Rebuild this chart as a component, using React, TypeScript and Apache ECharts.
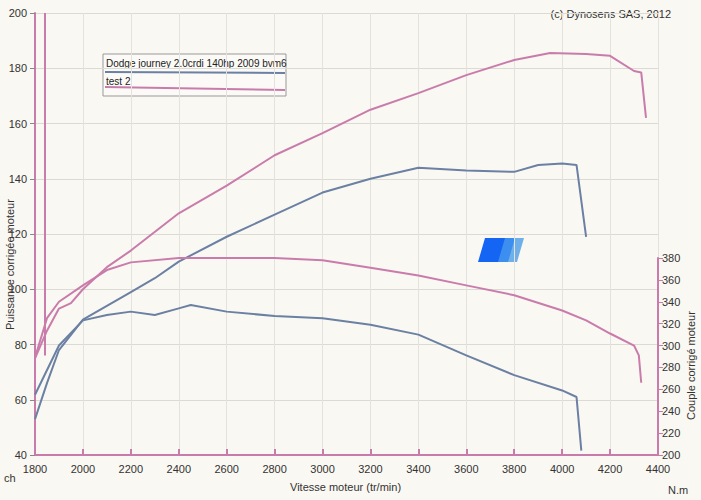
import { useRef, useEffect } from "react";
import * as echarts from "echarts";

const dodgePower: [number, number][] = [
  [1800, 53], [1850, 66], [1900, 78], [2000, 89], [2100, 94], [2200, 99], [2300, 104], [2400, 110],
  [2600, 119], [2800, 127], [3000, 135], [3200, 140], [3400, 144], [3600, 143], [3800, 142.5],
  [3900, 145], [4000, 145.5], [4060, 145], [4100, 119],
];
const dodgeTorque: [number, number][] = [
  [1800, 255], [1900, 300], [2000, 323], [2100, 328], [2200, 331], [2300, 328], [2400, 334],
  [2450, 337], [2600, 331], [2800, 327], [3000, 325], [3200, 319], [3400, 310], [3600, 291],
  [3800, 273], [4000, 259], [4060, 253], [4080, 204],
];
const testPower: [number, number][] = [
  [1800, 75], [1850, 85], [1900, 93], [1950, 95], [2000, 100], [2100, 108], [2200, 114], [2400, 127.5],
  [2600, 137.5], [2800, 148.5], [3000, 156.5], [3200, 165], [3400, 171], [3600, 177.5], [3800, 183],
  [3950, 185.5], [4100, 185.2], [4200, 184.5], [4300, 179], [4330, 178.5], [4350, 162],
];
const testTorque: [number, number][] = [
  [1800, 289], [1850, 325], [1900, 340], [2000, 355], [2100, 369], [2200, 376], [2400, 380],
  [2600, 380], [2800, 380], [3000, 378], [3200, 371], [3400, 364], [3600, 355], [3800, 346],
  [4000, 332], [4100, 323], [4200, 311], [4300, 300], [4320, 291], [4330, 266],
];

const BLUE = "#6b80a3";
const PINK = "#c97cab";
const FONT = "Liberation Sans";

export default function App() {
  const ref = useRef<HTMLDivElement>(null);

  useEffect(() => {
    if (!ref.current) return;
    const chart = echarts.init(ref.current, undefined, { renderer: "svg" });
    const axisText = { color: "#333", fontSize: 11, fontFamily: FONT };
    const xBase = {
      type: "value" as const,
      min: 1800,
      max: 4400,
      interval: 200,
    };
    const txt = (text: string, size = 11) => ({ text, fontSize: size, fill: "#333", fontFamily: FONT });
    chart.setOption({
      animation: false,
      backgroundColor: "#faf8f2",
      textStyle: { fontFamily: FONT },
      grid: [
        { left: 35, right: 43, top: 13, bottom: 45 },
        { left: 35, right: 43, top: 258, bottom: 45 },
      ],
      xAxis: [
        {
          ...xBase,
          gridIndex: 0,
          axisLine: { lineStyle: { color: PINK, width: 2 } },
          axisTick: { lineStyle: { color: PINK, width: 2 }, inside: true, length: 6 },
          axisLabel: { ...axisText, formatter: (v: number) => String(v) },
          splitLine: { lineStyle: { color: "#e4e2dc" } },
        },
        { ...xBase, gridIndex: 1, show: false },
      ],
      yAxis: [
        {
          type: "value",
          gridIndex: 0,
          min: 40,
          max: 200,
          interval: 20,
          axisLine: { show: true, lineStyle: { color: PINK, width: 2 } },
          axisTick: { show: true, lineStyle: { color: "#888" } },
          axisLabel: axisText,
          splitLine: { lineStyle: { color: "#dcdad4" } },
        },
        {
          type: "value",
          gridIndex: 1,
          position: "right",
          min: 200,
          max: 380,
          interval: 20,
          axisLine: { show: true, lineStyle: { color: PINK, width: 2 } },
          axisTick: { show: true, lineStyle: { color: PINK } },
          axisLabel: { ...axisText, margin: 4 },
          splitLine: { show: false },
        },
      ],
      series: [
        {
          type: "line", xAxisIndex: 0, yAxisIndex: 0, data: dodgePower, symbol: "none",
          lineStyle: { color: BLUE, width: 2 },
        },
        {
          type: "line", xAxisIndex: 0, yAxisIndex: 0, data: testPower, symbol: "none",
          lineStyle: { color: PINK, width: 2 },
          markLine: {
            symbol: "none", silent: true, label: { show: false },
            lineStyle: { color: PINK, width: 2, type: "solid" },
            data: [[{ coord: [1842, 76] }, { coord: [1842, 200] }]],
          },
        },
        {
          type: "line", xAxisIndex: 1, yAxisIndex: 1, data: dodgeTorque, symbol: "none",
          lineStyle: { color: BLUE, width: 2 },
        },
        {
          type: "line", xAxisIndex: 1, yAxisIndex: 1, data: testTorque, symbol: "none",
          lineStyle: { color: PINK, width: 2 },
        },
      ],
      graphic: [
        { type: "text", right: 30, top: 8, style: txt("(c) Dynosens SAS, 2012") },
        { type: "text", left: 4, top: 472, style: txt("ch") },
        { type: "text", left: 290, top: 481, style: txt("Vitesse moteur (tr/min)") },
        { type: "text", left: 668, top: 484, style: txt("N.m") },
        { type: "text", x: 4, y: 330, rotation: Math.PI / 2, style: txt("Puissance corrigée moteur") },
        { type: "text", x: 685, y: 420, rotation: Math.PI / 2, style: txt("Couple corrigé moteur") },
        { type: "rect", shape: { x: 103, y: 54, width: 183, height: 42 }, style: { fill: "#fbfaf6", stroke: "#999", lineWidth: 1 } },
        { type: "text", left: 106, top: 58, style: { ...txt("Dodge journey 2.0crdi 140hp 2009 bvm6", 10), fill: "#222" } },
        { type: "line", shape: { x1: 105, y1: 72, x2: 285, y2: 73 }, style: { stroke: BLUE, lineWidth: 2 } },
        { type: "text", left: 106, top: 76, style: { ...txt("test 2", 10), fill: "#222" } },
        { type: "line", shape: { x1: 105, y1: 87, x2: 285, y2: 90 }, style: { stroke: PINK, lineWidth: 2 } },
        { type: "polygon", shape: { points: [[478, 262], [505, 262], [512, 238], [485, 238]] }, style: { fill: "#1565f5" } },
        { type: "polygon", shape: { points: [[498, 262], [512, 262], [519, 238], [505, 238]] }, style: { fill: "#3d8fef" } },
        { type: "polygon", shape: { points: [[508, 262], [517, 262], [524, 238], [515, 238]] }, style: { fill: "#6fb0ea" } },
      ],
    });
    return () => chart.dispose();
  }, []);

  return <div ref={ref} style={{ position: "fixed", left: 0, top: 0, width: 701, height: 500 }} />;
}
